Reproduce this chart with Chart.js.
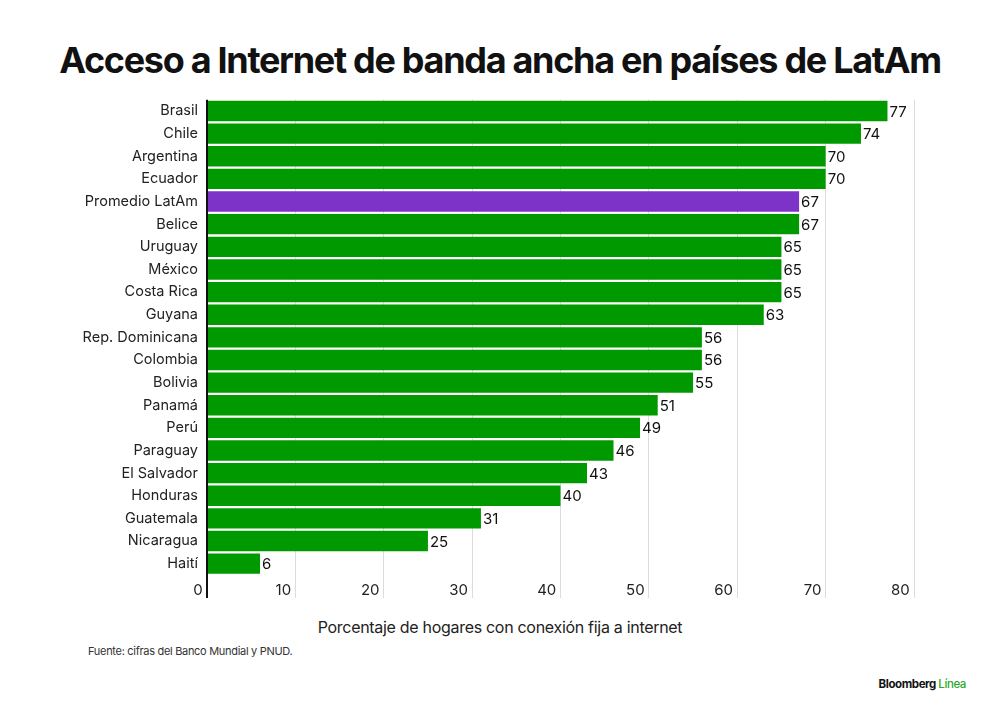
<!DOCTYPE html>
<html>
<head>
<meta charset="utf-8">
<script src="https://cdn.jsdelivr.net/npm/chart.js@4.4.0/dist/chart.umd.min.js"></script>
<style>
  body { margin: 0; background: #fff; width: 1000px; height: 710px; position: relative; overflow: hidden; font-family: Inter, "Liberation Sans", sans-serif; }
  #title { position: absolute; top: 38px; left: 0; width: 1000px; text-align: center; font-size: 36px; font-weight: 700; letter-spacing: -1.3px; color: #111; }
  #chartBox { position: absolute; left: 0; top: 90px; width: 1000px; height: 520px; }
  #xtitle { position: absolute; top: 617px; left: 0; width: 1000px; text-align: center; font-size: 16px; color: #222; letter-spacing: -0.3px; }
  #source { position: absolute; top: 644px; left: 88px; font-size: 11px; color: #333; letter-spacing: -0.3px; }
  #logo { position: absolute; top: 677px; right: 34px; font-size: 11.5px; font-weight: 700; letter-spacing: -0.4px; color: #111; }
  #logo span { color: #2aa82a; font-weight: 500; }
</style>
</head>
<body>
<div id="title">Acceso a Internet de banda ancha en países de LatAm</div>
<div id="chartBox"><canvas id="chart"></canvas></div>
<div id="xtitle">Porcentaje de hogares con conexión fija a internet</div>
<div id="source">Fuente: cifras del Banco Mundial y PNUD.</div>
<div id="logo">Bloomberg <span>Línea</span></div>
<script>
// Datos
const paises = ['Brasil', 'Chile', 'Argentina', 'Ecuador', 'Promedio LatAm', 'Belice', 'Uruguay', 'México',
    'Costa Rica', 'Guyana', 'Rep. Dominicana', 'Colombia', 'Bolivia', 'Panamá', 'Perú', 'Paraguay',
    'El Salvador', 'Honduras', 'Guatemala', 'Nicaragua', 'Haití'];
const porcentajes = [77, 74, 70, 70, 67, 67, 65, 65, 65, 63, 56, 56, 55, 51, 49, 46, 43, 40, 31, 25, 6];
const xTicks = [0, 10, 20, 30, 40, 50, 60, 70, 80];

const verde = '#009a00';
const morado = '#7d33c8';
const barColors = paises.map(p => p === 'Promedio LatAm' ? morado : verde);

// Etiquetas de valor al final de cada barra
const valueLabels = {
    id: 'valueLabels',
    afterDatasetsDraw(chart) {
        const ctx = chart.ctx;
        const meta = chart.getDatasetMeta(0);
        ctx.save();
        ctx.font = '15px Inter, "Liberation Sans", sans-serif';
        ctx.fillStyle = '#111';
        ctx.textAlign = 'left';
        ctx.textBaseline = 'middle';
        meta.data.forEach((bar, i) => {
            ctx.fillText(String(porcentajes[i]), bar.x + 2, bar.y + 1);
        });
        ctx.restore();
    }
};

const ctx = document.getElementById('chart').getContext('2d');
new Chart(ctx, {
    type: 'bar',
    data: {
        labels: paises,
        datasets: [{
            data: porcentajes,
            backgroundColor: barColors,
            borderWidth: 0,
            categoryPercentage: 0.9,
            barPercentage: 1
        }]
    },
    options: {
        indexAxis: 'y',
        responsive: true,
        maintainAspectRatio: false,
        animation: false,
        layout: { padding: { top: 4, right: 86, left: 0, bottom: 0 } },
        plugins: {
            legend: { display: false },
            tooltip: { enabled: false }
        },
        scales: {
            x: {
                min: 0,
                max: 80,
                afterBuildTicks: (scale) => { scale.ticks = xTicks.map(v => ({ value: v })); },
                afterFit: (scale) => { scale.height = 35; },
                border: { display: false },
                grid: {
                    color: (c) => c.index === 0 ? '#111' : '#dcdcdc',
                    lineWidth: (c) => c.index === 0 ? 2 : 1,
                    tickLength: 23
                },
                ticks: {
                    align: 'end',
                    padding: -17,
                    color: '#222',
                    font: { size: 15, family: 'Inter, "Liberation Sans", sans-serif' },
                    callback: (v) => v + ' '
                }
            },
            y: {
                afterFit: (scale) => { scale.width = 207; },
                border: { display: false },
                grid: { display: false },
                ticks: {
                    padding: 1,
                    color: '#222',
                    autoSkip: false,
                    font: { size: 14.5, family: 'Inter, "Liberation Sans", sans-serif' }
                }
            }
        }
    },
    plugins: [valueLabels]
});
</script>
</body>
</html>
